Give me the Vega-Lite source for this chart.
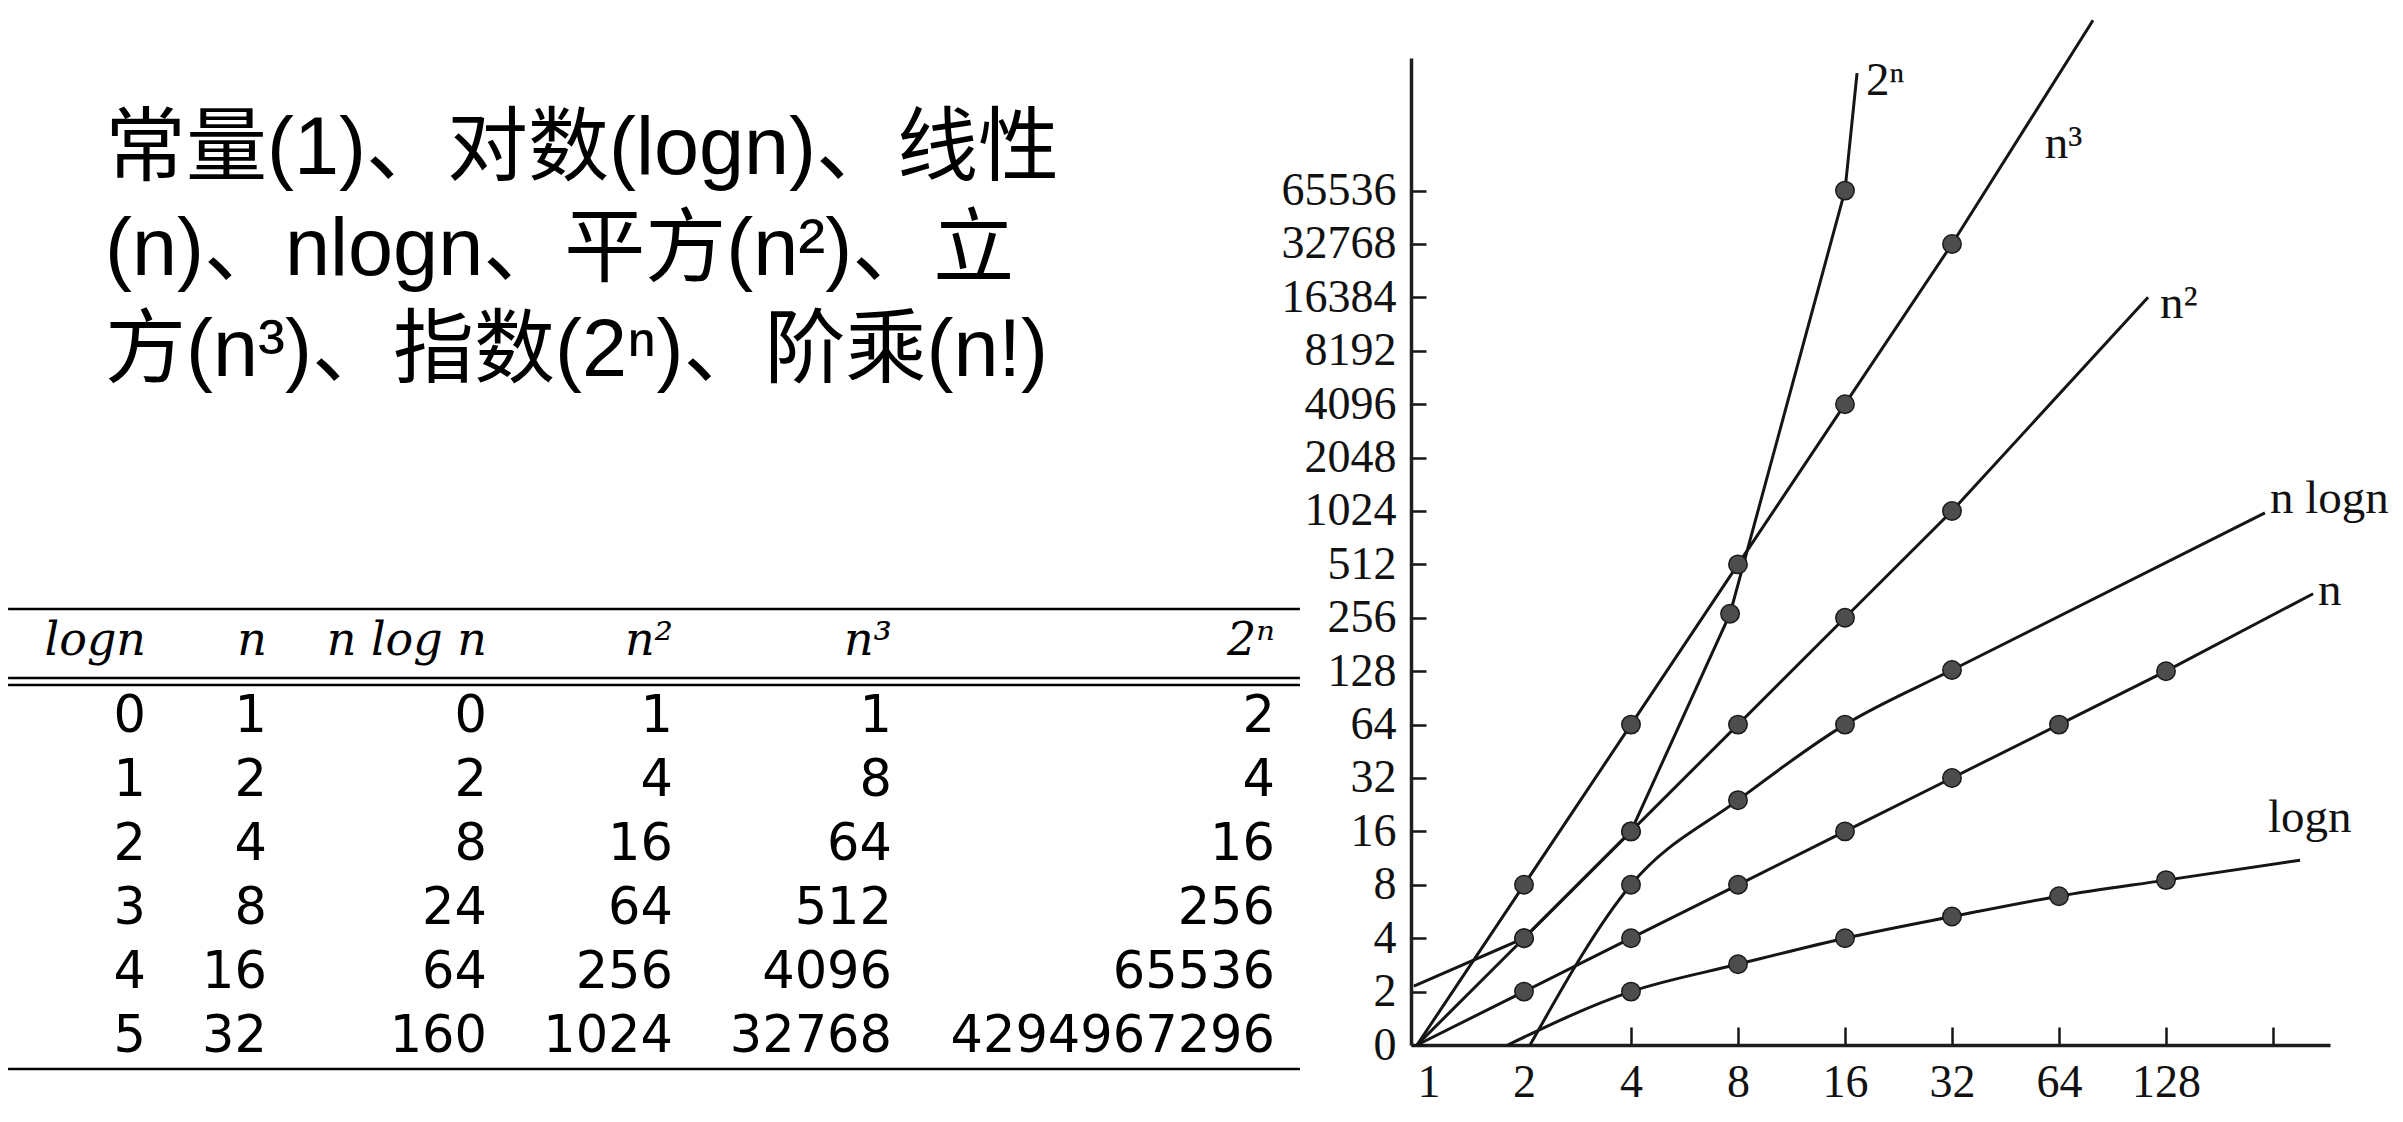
{
  "$schema": "https://vega.github.io/schema/vega-lite/v6.json",
  "width": 919,
  "height": 987,
  "autosize": {"type": "none"},
  "padding": {"left": 1411, "top": 58, "right": 73, "bottom": 77},
  "background": "white",
  "config": {"view": {"stroke": null}},
  "datasets": {
    "curves": [
      {"s": "logn", "n": 1.8, "f": 1, "dot": false},
      {"s": "logn", "n": 4, "f": 2, "dot": true},
      {"s": "logn", "n": 8, "f": 2.85, "dot": true},
      {"s": "logn", "n": 16, "f": 4, "dot": true},
      {"s": "logn", "n": 32, "f": 5.3, "dot": true},
      {"s": "logn", "n": 64, "f": 6.9, "dot": true},
      {"s": "logn", "n": 128, "f": 8.5, "dot": true},
      {"s": "logn", "n": 305, "f": 11, "dot": false},
      {"s": "n", "n": 1, "f": 1, "dot": false},
      {"s": "n", "n": 2, "f": 2, "dot": true},
      {"s": "n", "n": 4, "f": 4, "dot": true},
      {"s": "n", "n": 8, "f": 8, "dot": true},
      {"s": "n", "n": 16, "f": 16, "dot": true},
      {"s": "n", "n": 32, "f": 32, "dot": true},
      {"s": "n", "n": 64, "f": 64, "dot": true},
      {"s": "n", "n": 128, "f": 128, "dot": true},
      {"s": "n", "n": 332, "f": 350, "dot": false},
      {"s": "nlogn", "n": 2.08, "f": 1, "dot": false},
      {"s": "nlogn", "n": 4, "f": 8, "dot": true},
      {"s": "nlogn", "n": 8, "f": 24, "dot": true},
      {"s": "nlogn", "n": 16, "f": 64, "dot": true},
      {"s": "nlogn", "n": 32, "f": 130, "dot": true},
      {"s": "nlogn", "n": 243, "f": 1000, "dot": false},
      {"s": "n2", "n": 1, "f": 1, "dot": false},
      {"s": "n2", "n": 2, "f": 4, "dot": true},
      {"s": "n2", "n": 4, "f": 16, "dot": true},
      {"s": "n2", "n": 8, "f": 64, "dot": true},
      {"s": "n2", "n": 16, "f": 256, "dot": true},
      {"s": "n2", "n": 32, "f": 1024, "dot": true},
      {"s": "n2", "n": 114, "f": 16400, "dot": false},
      {"s": "n3", "n": 1, "f": 1, "dot": false},
      {"s": "n3", "n": 2, "f": 8, "dot": true},
      {"s": "n3", "n": 4, "f": 64, "dot": true},
      {"s": "n3", "n": 8, "f": 512, "dot": true},
      {"s": "n3", "n": 16, "f": 4096, "dot": true},
      {"s": "n3", "n": 32, "f": 32768, "dot": true},
      {"s": "n3", "n": 79.8, "f": 598000, "dot": false},
      {"s": "2n", "n": 0.98, "f": 2.15, "dot": false},
      {"s": "2n", "n": 2, "f": 4, "dot": true},
      {"s": "2n", "n": 4, "f": 16, "dot": true},
      {"s": "2n", "n": 7.6, "f": 270, "dot": true},
      {"s": "2n", "n": 16, "f": 65536, "dot": true},
      {"s": "2n", "n": 17.3, "f": 301000, "dot": false}
    ],
    "chartLabels": [
      {"label": "2ⁿ", "n": 18.33, "f": 226000},
      {"label": "n³", "n": 58.4, "f": 100000},
      {"label": "n²", "n": 123.1, "f": 12550},
      {"label": "n logn", "n": 251, "f": 996},
      {"label": "n", "n": 342.6, "f": 302},
      {"label": "logn", "n": 247.8, "f": 15.9}
    ],
    "titleLines": [
      {"line": 0, "text": "常量(1)、对数(logn)、线性"},
      {"line": 1, "text": "(n)、nlogn、平方(n²)、立"},
      {"line": 2, "text": "方(n³)、指数(2ⁿ)、阶乘(n!)"}
    ],
    "tableHeader": [
      {"col": 0, "text": "logn"},
      {"col": 1, "text": "n"},
      {"col": 2, "text": "n log n"},
      {"col": 3, "text": "n²"},
      {"col": 4, "text": "n³"},
      {"col": 5, "text": "2ⁿ"}
    ],
    "tableRules": [
      {"pos": -1.922},
      {"pos": -0.844},
      {"pos": -0.734},
      {"pos": 5.266}
    ],
    "tableCells": [
      {"row": 0, "col": 0, "text": "0"}, {"row": 0, "col": 1, "text": "1"}, {"row": 0, "col": 2, "text": "0"},
      {"row": 0, "col": 3, "text": "1"}, {"row": 0, "col": 4, "text": "1"}, {"row": 0, "col": 5, "text": "2"},
      {"row": 1, "col": 0, "text": "1"}, {"row": 1, "col": 1, "text": "2"}, {"row": 1, "col": 2, "text": "2"},
      {"row": 1, "col": 3, "text": "4"}, {"row": 1, "col": 4, "text": "8"}, {"row": 1, "col": 5, "text": "4"},
      {"row": 2, "col": 0, "text": "2"}, {"row": 2, "col": 1, "text": "4"}, {"row": 2, "col": 2, "text": "8"},
      {"row": 2, "col": 3, "text": "16"}, {"row": 2, "col": 4, "text": "64"}, {"row": 2, "col": 5, "text": "16"},
      {"row": 3, "col": 0, "text": "3"}, {"row": 3, "col": 1, "text": "8"}, {"row": 3, "col": 2, "text": "24"},
      {"row": 3, "col": 3, "text": "64"}, {"row": 3, "col": 4, "text": "512"}, {"row": 3, "col": 5, "text": "256"},
      {"row": 4, "col": 0, "text": "4"}, {"row": 4, "col": 1, "text": "16"}, {"row": 4, "col": 2, "text": "64"},
      {"row": 4, "col": 3, "text": "256"}, {"row": 4, "col": 4, "text": "4096"}, {"row": 4, "col": 5, "text": "65536"},
      {"row": 5, "col": 0, "text": "5"}, {"row": 5, "col": 1, "text": "32"}, {"row": 5, "col": 2, "text": "160"},
      {"row": 5, "col": 3, "text": "1024"}, {"row": 5, "col": 4, "text": "32768"}, {"row": 5, "col": 5, "text": "4294967296"}
    ]
  },
  "layer": [
    {
      "encoding": {
        "x": {
          "field": "n", "type": "quantitative",
          "scale": {"type": "log", "base": 2, "domain": [0.9619, 370.4], "nice": false},
          "axis": {
            "values": [1, 2, 4, 8, 16, 32, 64, 128, 256],
            "format": "d",
            "labelExpr": "datum.value > 200 ? '' : datum.label",
            "labelAlign": {"condition": {"test": "datum.value < 1.5", "value": "left"}, "value": "center"},
            "labelFlush": false,
            "title": null, "grid": false,
            "labelFont": "Liberation Serif", "labelFontSize": 46, "labelColor": "#111",
            "tickSize": -18, "tickWidth": 2.5, "tickColor": "#151515",
            "tickOpacity": {"condition": {"test": "datum.value < 3", "value": 0}, "value": 1},
            "domainWidth": 3.5, "domainColor": "#1e1e1e",
            "labelPadding": 33
          }
        },
        "y": {
          "field": "f", "type": "quantitative",
          "scale": {"type": "log", "base": 2, "domain": [1, 366400], "nice": false},
          "axis": {
            "values": [1, 2, 4, 8, 16, 32, 64, 128, 256, 512, 1024, 2048, 4096, 8192, 16384, 32768, 65536],
            "format": "d",
            "labelExpr": "datum.value < 1.5 ? '0' : datum.label",
            "title": null, "grid": false,
            "labelFont": "Liberation Serif", "labelFontSize": 46, "labelColor": "#111",
            "tickSize": -15, "tickWidth": 2.5, "tickColor": "#151515",
            "domainWidth": 3.5, "domainColor": "#1e1e1e",
            "labelPadding": 30
          }
        }
      },
      "layer": [
        {
          "data": {"name": "curves"},
          "transform": [{"filter": "datum.s == 'logn' || datum.s == 'nlogn'"}],
          "mark": {"type": "line", "interpolate": "monotone", "strokeWidth": 3, "color": "#151515"},
          "encoding": {"detail": {"field": "s", "type": "nominal"}}
        },
        {
          "data": {"name": "curves"},
          "transform": [{"filter": "datum.s != 'logn' && datum.s != 'nlogn'"}],
          "mark": {"type": "line", "interpolate": "linear", "strokeWidth": 3, "color": "#151515"},
          "encoding": {"detail": {"field": "s", "type": "nominal"}}
        },
        {
          "data": {"name": "curves"},
          "transform": [{"filter": "datum.dot"}],
          "mark": {"type": "circle", "size": 340, "color": "#4d4d4d", "stroke": "#1a1a1a", "strokeWidth": 1.5, "opacity": 1}
        },
        {
          "data": {"name": "chartLabels"},
          "mark": {"type": "text", "align": "left", "baseline": "alphabetic", "font": "Liberation Serif", "fontSize": 47, "color": "#111"},
          "encoding": {"text": {"field": "label", "type": "nominal"}}
        }
      ]
    },
    {
      "data": {"name": "titleLines"},
      "mark": {"type": "text", "align": "left", "baseline": "alphabetic", "font": "'Liberation Sans', 'Noto Sans CJK SC'", "fontSize": 81, "color": "#000"},
      "encoding": {
        "x": {"datum": 0, "type": "quantitative", "scale": {"domain": [0, 1], "range": [-1306, 0], "nice": false, "zero": false}, "axis": null},
        "y": {"field": "line", "type": "quantitative", "scale": {"domain": [0, 2], "range": [116, 318], "nice": false, "zero": false}, "axis": null},
        "text": {"field": "text", "type": "nominal"}
      }
    },
    {
      "layer": [
        {
          "data": {"name": "tableRules"},
          "mark": {"type": "rule", "strokeWidth": 2.5, "color": "#000"},
          "encoding": {
            "x": {"datum": -1.14, "type": "quantitative", "scale": {"domain": [0, 1, 2, 3, 4, 5], "range": [-1265, -1144, -924, -738, -519, -136], "nice": false, "zero": false}, "axis": null},
            "x2": {"datum": 5.065},
            "y": {"field": "pos", "type": "quantitative", "scale": {"domain": [0, 5], "range": [674, 994], "nice": false, "zero": false}, "axis": null}
          }
        },
        {
          "data": {"name": "tableHeader"},
          "mark": {"type": "text", "align": "right", "baseline": "alphabetic", "font": "DejaVu Serif", "fontStyle": "italic", "fontSize": 46, "color": "#000"},
          "encoding": {
            "x": {"field": "col", "type": "quantitative", "scale": {"domain": [0, 1, 2, 3, 4, 5], "range": [-1265, -1144, -924, -738, -519, -136], "nice": false, "zero": false}, "axis": null},
            "y": {"datum": -1.203, "type": "quantitative", "scale": {"domain": [0, 5], "range": [674, 994], "nice": false, "zero": false}, "axis": null},
            "text": {"field": "text", "type": "nominal"}
          }
        },
        {
          "data": {"name": "tableCells"},
          "mark": {"type": "text", "align": "right", "baseline": "alphabetic", "font": "DejaVu Sans", "fontSize": 51, "color": "#000"},
          "encoding": {
            "x": {"field": "col", "type": "quantitative", "scale": {"domain": [0, 1, 2, 3, 4, 5], "range": [-1265, -1144, -924, -738, -519, -136], "nice": false, "zero": false}, "axis": null},
            "y": {"field": "row", "type": "quantitative", "scale": {"domain": [0, 5], "range": [674, 994], "nice": false, "zero": false}, "axis": null},
            "text": {"field": "text", "type": "nominal"}
          }
        }
      ]
    }
  ],
  "resolve": {"scale": {"x": "independent", "y": "independent"}}
}
